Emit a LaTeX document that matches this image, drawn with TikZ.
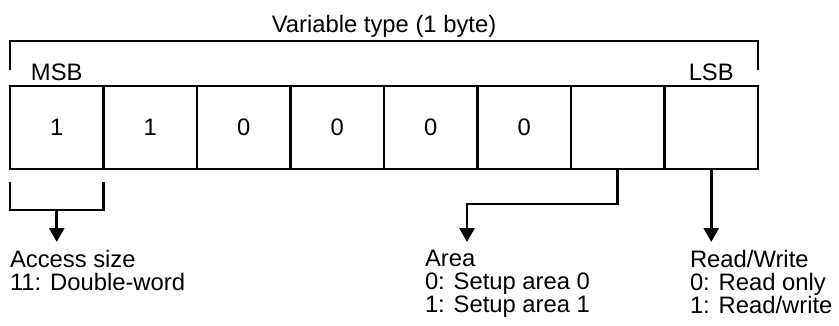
\documentclass[tikz,border=0pt]{standalone}
\usepackage{fontspec}
\setmainfont{Liberation Sans}
\usetikzlibrary{arrows.meta,positioning}

\begin{document}
\begin{tikzpicture}[x=1pt,y=-1pt,line width=2.7pt,
                    >={Triangle[width=15pt,length=14pt]},
                    font=\fontsize{23.8}{23}\selectfont]
  \tikzstyle{cell}=[draw,minimum width=93.5pt,minimum height=83pt,
                    inner sep=0pt,outer sep=0pt]
  \tikzstyle{lbl}=[inner sep=0pt,outer sep=0pt]
  \tikzstyle{desc}=[lbl,align=left,anchor=north west]

  \useasboundingbox (0,0) rectangle (839,325);

  % the byte
  \node[cell]          (c1) at (56.75,127.5) {1};
  \node[cell]          (c2) [right=0pt of c1] {1};
  \node[cell]          (c3) [right=0pt of c2] {0};
  \node[cell]          (c4) [right=0pt of c3] {0};
  \node[cell]          (c5) [right=0pt of c4] {0};
  \node[cell]          (c6) [right=0pt of c5] {0};
  \node[cell]          (c7) [right=0pt of c6] {};
  \node[cell]          (c8) [right=0pt of c7] {};

  \node[lbl,anchor=base] (msb) at ([yshift=6pt]c1.north) {MSB};
  \node[lbl,anchor=base] (lsb) at ([yshift=6pt]c8.north) {LSB};
  \node[lbl,anchor=base] (title) at (384,32) {Variable type (1 byte)};

  \draw ([yshift=16pt]c1.north west) -- ([yshift=45pt]c1.north west)
        -- ([yshift=45pt]c8.north east) -- ([yshift=16pt]c8.north east);

  % fields
  \node[desc] (acc)  at (10,250)  {Access size\\11: Double-word};
  \node[desc] (area) at (425,250) {Area\\0: Setup area 0\\1: Setup area 1};
  \node[desc] (rw)   at (690,250) {Read/Write\\0: Read only\\1: Read/write};

  \draw ([yshift=-13pt]c1.south west) -- ([yshift=-41pt]c1.south west)
        -- ([yshift=-41pt]c1.south east) -- ([yshift=-13pt]c1.south east);
  \draw[->] ([yshift=-41pt]c1.south) -- ([yshift=8pt]c1.south |- acc.north);
  \draw[->] (c7.south) -- ++(0,35) -| ([xshift=42pt,yshift=8pt]area.north west);
  \draw[->] (c8.south) -- ([yshift=8pt]c8.south |- rw.north);
\end{tikzpicture}
\end{document}
